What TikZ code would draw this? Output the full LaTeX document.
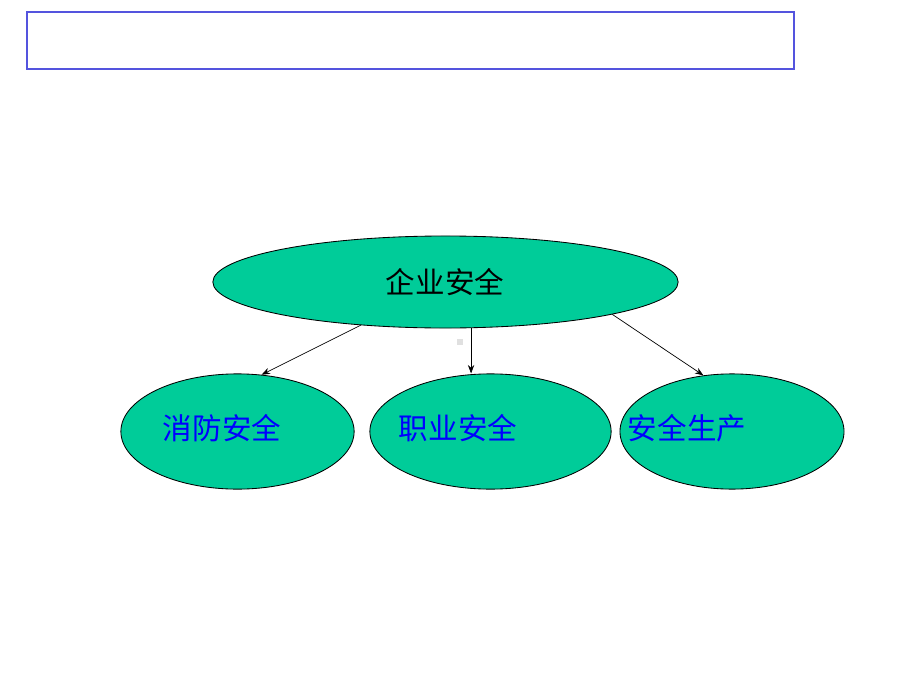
\documentclass[tikz,border=0pt]{standalone}
\usepackage{fontspec}
\setmainfont{Noto Sans CJK SC}
\usetikzlibrary{shapes.geometric,arrows.meta}
\definecolor{boxblue}{RGB}{84,84,222}
\definecolor{ovalgreen}{RGB}{0,204,153}
\definecolor{textblue}{RGB}{0,0,255}
\tikzset{
  oval/.style={ellipse, draw=black, fill=ovalgreen, line width=0.6pt, inner sep=0pt},
  label-text/.style={font=\fontsize{21}{25}\selectfont, inner sep=0pt},
  link/.style={-{Stealth[length=6pt,width=4.5pt]}, line width=0.5pt}
}
\begin{document}
\begin{tikzpicture}[x=0.025cm, y=-0.025cm]
            \useasboundingbox (0,0) rectangle (920,690);
            % Title box
            \draw[boxblue, line width=0.8pt] (27,12) rectangle (794,69);

            % Top oval
            \node[oval, minimum width=11.63cm, minimum height=2.3cm] (node-top) at (445.5,282) {};
            \node[label-text] (text-top) at (445,282) {企业安全};

            % Bottom ovals
            \node[oval, minimum width=5.83cm, minimum height=2.88cm] (node-1) at (237.5,431.5) {};
            \node[oval, minimum width=6.03cm, minimum height=2.88cm] (node-2) at (490.5,431.5) {};
            \node[oval, minimum width=5.6cm, minimum height=2.88cm] (node-3) at (732,431.5) {};
            \node[label-text, text=textblue] (text-1) at (222,428) {消防安全};
            \node[label-text, text=textblue] (text-2) at (458,428) {职业安全};
            \node[label-text, text=textblue] (text-3) at (687,428) {安全生产};

            % small grey mark
            \fill[black!12] (457,338.5) rectangle (463,344.5);

            % Arrows
            \draw[link] (node-top.207) -- (node-1.67);
            \draw[link] (node-top.299) -- (node-top.299 |- node-2.north);
            \draw[link] (node-top.349) -- (node-3.117);
        \end{tikzpicture}
\end{document}
